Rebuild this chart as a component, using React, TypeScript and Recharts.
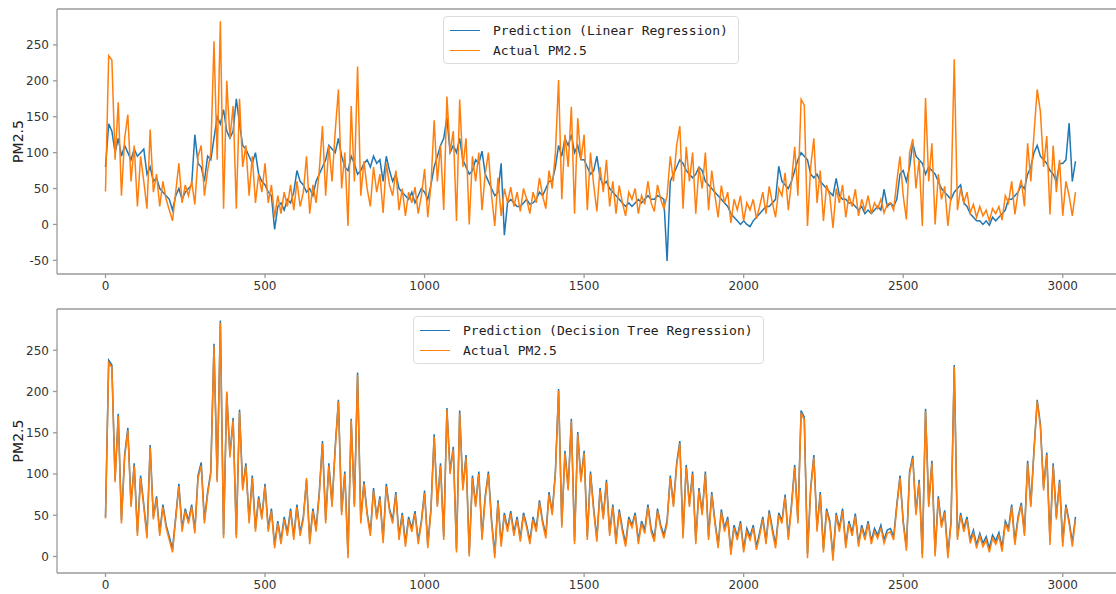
import { LineChart, Line, XAxis, YAxis, Legend, ReferenceLine } from "recharts";

const STEP = 10;

// actual PM2.5 (test set), read every ~10 samples
const actualPM25 = [
  46, 235, 229, 90, 170, 40, 120, 153, 60, 110,
  25, 95, 60, 22, 132, 45, 70, 25, 60, 35,
  20, 5, 45, 85, 30, 55, 40, 60, 28, 95,
  110, 40, 75, 100, 255, 90, 283, 22, 200, 120,
  165, 22, 175, 80, 110, 40, 95, 30, 70, 45,
  85, 30, 55, 10, 40, 15, 45, 25, 55, 20,
  60, 25, 45, 95, 15, 55, 30, 75, 137, 40,
  110, 60, 130, 188, 50, 100, -2, 165, 60, 220,
  40, 88, 50, 25, 80, 45, 70, 16, 85, 55,
  40, 75, 20, 50, 12, 45, 30, 52, 15, 40,
  77, 10, 55, 145, 60, 110, 20, 178, 100, 130,
  5, 174, 80, 120, 0, 95, 60, 100, 20, 70,
  100, 40, -2, 65, 12, 50, 30, 52, 25, 45,
  18, 50, 35, 15, 45, 30, 65, 40, 22, 75,
  50, 100, 201, 35, 125, 80, 164, 15, 148, 90,
  125, 20, 100, 55, 18, 80, 45, 90, 25, 60,
  15, 54, 30, 12, 45, 35, 50, 15, 40, 28,
  60, 30, 18, 55, 35, 22, 40, 95, 60, 110,
  137, 22, 108, 60, 100, 15, 80, 50, 100, 20,
  75, 40, 10, 54, 30, 45, 2, 35, 20, 40,
  5, 30, 20, 35, 8, 25, 45, 15, 53, 30,
  10, 50, 40, 72, 20, 60, 108, 40, 174, 166,
  -2, 80, 120, 30, 75, 5, 55, 40, -5, 50,
  30, 55, 10, 40, 25, 49, 12, 35, 20, 40,
  15, 30, 22, 35, 16, 28, 30, 20, 60, 95,
  40, 7, 100, 119, 50, 90, -2, 176, 60, 113,
  0, 70, 35, 53, -2, 40, 230, 20, 50, 30,
  45, 16, 28, 10, 25, 12, 20, 5, 22, 15,
  25, 6, 40, 30, 60, 14, 45, 62, 25, 113,
  60, 127, 188, 157, 80, 123, 14, 110, 45, 90,
  12, 60, 40, 12, 45,
];

const linearPred = [
  80, 140, 130, 100, 120, 95, 110, 100, 90, 105,
  95, 100, 105, 70, 80, 60, 65, 50, 45, 40,
  35, 20, 40, 50, 35, 45, 50, 55, 125, 85,
  80, 60, 95, 90, 120, 150, 140, 160, 130, 120,
  130, 175, 140, 110, 105, 95, 85, 100, 70, 60,
  55, 45, 40, -7, 25, 30, 20, 35, 30, 45,
  75, 60, 55, 45, 50, 40, 60, 70, 80, 90,
  110, 105, 100, 120, 95, 80, 75, 95, 85, 70,
  75, 85, 90, 80, 95, 85, 90, 60, 95, 75,
  60, 70, 50, 45, 40, 35, 45, 30, 40, 50,
  45, 35, 55, 80, 95, 110, 120, 149, 100, 110,
  100, 120, 90, 80, 70, 75, 90, 85, 102, 70,
  60, 50, 40, 45, 85, -15, 30, 35, 30, 25,
  25, 30, 35, 28, 30, 35, 45, 40, 50, 60,
  60, 80, 110, 95, 120, 110, 125, 100, 110, 90,
  90, 80, 70, 75, 95, 65, 55, 60, 50, 45,
  40, 35, 30, 25, 30, 25, 30, 35, 30, 35,
  40, 35, 35, 40, 38, 35, -51, 60, 70, 80,
  90, 85, 75, 70, 65, 70, 80, 75, 60, 55,
  50, 45, 40, 35, 30, 25, 15, 10, 5, 0,
  5, 0, -3, 5, 10, 15, 20, 25, 25, 30,
  35, 81, 60, 55, 50, 60, 75, 90, 100, 95,
  90, 70, 65, 70, 60, 55, 50, 45, 40, 64,
  40, 35, 35, 30, 30, 25, 20, 25, 15, 20,
  15, 20, 25, 20, 49, 25, 30, 25, 35, 70,
  75, 60, 80, 113, 95, 90, 85, 70, 80, 75,
  70, 60, 50, 45, 40, 35, 45, 50, 55, 30,
  25, 15, 10, 5, 5, 0, 5, -1, 10, 5,
  10, 15, 20, 35, 35, 40, 45, 55, 50, 70,
  80, 100, 110, 95, 90, 85, 75, 70, 60, 85,
  85, 90, 141, 60, 88,
];

const treePred = [
  48, 238, 232, 93, 173, 44, 123, 156, 63, 113,
  29, 98, 63, 26, 135, 48, 73, 29, 63, 38,
  24, 9, 48, 88, 34, 58, 43, 63, 32, 98,
  114, 44, 78, 103, 258, 93, 286, 26, 198, 123,
  168, 26, 178, 83, 113, 44, 98, 34, 73, 48,
  88, 34, 58, 14, 43, 19, 48, 29, 58, 24,
  63, 29, 48, 93, 19, 58, 34, 78, 140, 44,
  113, 63, 133, 190, 54, 103, 3, 167, 63, 223,
  44, 91, 53, 29, 83, 48, 73, 20, 88, 58,
  44, 78, 24, 53, 16, 48, 34, 55, 19, 43,
  80, 14, 58, 148, 63, 113, 24, 180, 103, 133,
  9, 177, 83, 123, 4, 98, 63, 103, 24, 73,
  103, 44, 3, 68, 16, 53, 34, 55, 29, 48,
  22, 53, 38, 19, 48, 34, 68, 43, 26, 78,
  53, 103, 203, 39, 128, 83, 167, 19, 151, 93,
  128, 24, 103, 58, 22, 83, 48, 93, 29, 63,
  19, 57, 34, 16, 48, 38, 53, 19, 43, 32,
  63, 34, 22, 58, 38, 26, 43, 98, 63, 113,
  140, 26, 111, 63, 103, 19, 83, 53, 103, 24,
  78, 43, 14, 57, 34, 48, 7, 38, 24, 43,
  9, 34, 24, 38, 12, 29, 48, 19, 56, 34,
  14, 53, 43, 75, 24, 63, 111, 44, 177, 169,
  3, 83, 123, 34, 78, 9, 58, 43, 0, 53,
  34, 58, 14, 43, 29, 52, 16, 38, 24, 43,
  19, 34, 26, 38, 20, 32, 34, 24, 63, 98,
  43, 11, 103, 122, 53, 93, 3, 179, 63, 116,
  5, 73, 38, 56, 3, 43, 232, 24, 53, 34,
  48, 20, 32, 14, 28, 16, 24, 10, 26, 19,
  29, 11, 43, 34, 63, 18, 48, 65, 29, 116,
  63, 130, 190, 160, 83, 126, 19, 113, 48, 93,
  17, 63, 43, 17, 48,
];

const xTicks = [0, 500, 1000, 1500, 2000, 2500, 3000];
const topYTicks = [-50, 0, 50, 100, 150, 200, 250];
const bottomYTicks = [0, 50, 100, 150, 200, 250];

const BLUE = "#1f77b4";
const ORANGE = "#ff7f0e";
const SPINE = "#9a9a9a";
const tickStyle = { fontSize: 12, fill: "#333", fontFamily: "DejaVu Sans" };

const topData = actualPM25.map((v, i) => ({ x: i * STEP, actual: v, pred: linearPred[i] }));
const bottomData = actualPM25.map((v, i) => ({ x: i * STEP, actual: v, pred: treePred[i] }));

function legendBox(labels: string[]) {
  const colors = [BLUE, ORANGE];
  return () => (
    <div
      style={{
        border: "1px solid #dcdcdc",
        borderRadius: 4,
        background: "rgba(255,255,255,0.85)",
        padding: "3px 10px 3px 6px",
        fontFamily: "DejaVu Sans Mono",
        fontSize: 13,
        color: "#222",
        whiteSpace: "nowrap",
      }}
    >
      {labels.map((l, i) => (
        <div key={l} style={{ display: "flex", alignItems: "center", height: 20 }}>
          <span style={{ display: "inline-block", width: 30, borderTop: `1.5px solid ${colors[i]}`, marginRight: 13 }} />
          {l}
        </div>
      ))}
    </div>
  );
}

const yLabel = ({ viewBox }: any) => {
  const cx = 18;
  const cy = viewBox.y + viewBox.height / 2;
  return (
    <text
      x={cx}
      y={cy}
      transform={`rotate(-90 ${cx} ${cy})`}
      textAnchor="middle"
      dominantBaseline="central"
      fontSize={14}
      fontFamily="DejaVu Sans"
      fill="#222"
    >
      PM2.5
    </text>
  );
};

function Panel({
  data,
  yDomain,
  yTicks,
  legend,
  legendLeft,
  bottom,
}: {
  data: any[];
  yDomain: [number, number];
  yTicks: number[];
  legend: string[];
  legendLeft: number;
  bottom: number;
}) {
  return (
    <LineChart width={1140} height={300} data={data} margin={{ top: 9, right: 16, left: 0, bottom: 0 }}>
      <XAxis
        dataKey="x"
        type="number"
        domain={[-152, 3192]}
        ticks={xTicks}
        allowDataOverflow
        height={bottom}
        tick={tickStyle}
        tickSize={4}
        tickMargin={3}
        stroke={SPINE}
        strokeWidth={1.3}
      />
      <YAxis
        type="number"
        domain={yDomain}
        ticks={yTicks}
        allowDataOverflow
        width={57}
        tick={tickStyle}
        tickSize={4}
        tickMargin={4}
        stroke={SPINE}
        strokeWidth={1.3}
        label={yLabel}
      />
      <ReferenceLine y={yDomain[1]} stroke={SPINE} strokeWidth={1.3} />
      <Legend
        layout="vertical"
        align="center"
        verticalAlign="middle"
        content={legendBox(legend)}
        wrapperStyle={{ left: legendLeft, top: 16, width: "auto" }}
      />
      <Line dataKey="pred" stroke={BLUE} strokeWidth={1.5} dot={false} isAnimationActive={false} />
      <Line dataKey="actual" stroke={ORANGE} strokeWidth={1.5} dot={false} isAnimationActive={false} />
    </LineChart>
  );
}

export default function App() {
  return (
    <div style={{ position: "fixed", left: 0, top: 0, width: 1116, height: 594, overflow: "hidden", background: "#fff" }}>
      <div style={{ position: "absolute", left: 0, top: 0 }}>
        <Panel
          data={topData}
          yDomain={[-69, 300]}
          yTicks={topYTicks}
          legend={["Prediction (Linear Regression)", "Actual PM2.5"]}
          legendLeft={443}
          bottom={26}
        />
      </div>
      <div style={{ position: "absolute", left: 0, top: 300 }}>
        <Panel
          data={bottomData}
          yDomain={[-20, 300]}
          yTicks={bottomYTicks}
          legend={["Prediction (Decision Tree Regression)", "Actual PM2.5"]}
          legendLeft={413}
          bottom={27}
        />
      </div>
    </div>
  );
}
